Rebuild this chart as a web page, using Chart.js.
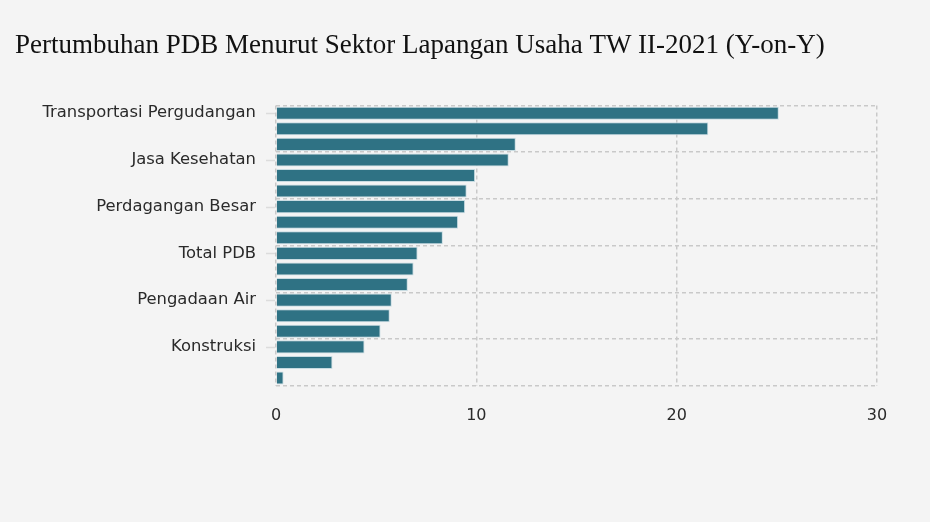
<!DOCTYPE html>
<html>
<head>
<meta charset="utf-8">
<script src="https://cdn.jsdelivr.net/npm/chart.js@4/dist/chart.umd.min.js"></script>
<style>
  html, body { margin: 0; padding: 0; background: #f4f4f4; }
  #wrap { position: relative; width: 930px; height: 522px; }
</style>
</head>
<body>
<div id="wrap"><canvas id="grafikPDB"></canvas></div>
<script>
// sektor lapangan usaha, urut dari pertumbuhan tertinggi
const sektor = [
  'Transportasi Pergudangan', 'Akomodasi Makan Minum', 'Jasa Lainnya',
  'Jasa Kesehatan', 'Jasa Perusahaan', 'Administrasi Pemerintahan',
  'Perdagangan Besar', 'Pengadaan Listrik', 'Jasa Keuangan',
  'Total PDB', 'Informasi Komunikasi', 'Industri Pengolahan',
  'Pengadaan Air', 'Jasa Pendidikan', 'Pertambangan',
  'Konstruksi', 'Real Estate', 'Pertanian'
]
// pertumbuhan y-on-y (%)
const pertumbuhan = [25.10, 21.58, 11.97, 11.62, 9.94, 9.52, 9.44, 9.09, 8.33,
                     7.07, 6.87, 6.58, 5.78, 5.68, 5.22, 4.42, 2.82, 0.38]
const tickX = [0, 10, 20, 30]
const judul = 'Pertumbuhan PDB Menurut Sektor Lapangan Usaha TW II-2021 (Y-on-Y)'

const GRID = '#c9c9c9'
const FONT = 'Verdana, "DejaVu Sans", sans-serif'

// garis tick pendek di sebelah label sumbu Y
const tickKiri = {
  id: 'tickKiri',
  afterDraw(chart) {
    const y = chart.scales.y
    const ctx = chart.ctx
    ctx.save()
    ctx.strokeStyle = '#dcdcdc'
    ctx.lineWidth = 1.5
    for (let i = 0; i < sektor.length; i += 3) {
      const py = Math.round(y.getPixelForTick(i)) + 0.5
      ctx.beginPath()
      ctx.moveTo(chart.chartArea.left - 10, py)
      ctx.lineTo(chart.chartArea.left - 1, py)
      ctx.stroke()
    }
    ctx.restore()
  }
}

const ctx = document.getElementById('grafikPDB').getContext('2d')
new Chart(ctx, {
  type: 'bar',
  data: {
    labels: sektor,
    datasets: [{
      label: 'Pertumbuhan (%)',
      data: pertumbuhan,
      backgroundColor: '#2f7284',
      borderColor: '#c8dce2',
      borderWidth: 1,
      barPercentage: 0.84,
      categoryPercentage: 1
    }]
  },
  options: {
    indexAxis: 'y',
    responsive: true,
    maintainAspectRatio: false,
    animation: false,
    layout: { padding: { left: 15, right: 53, top: 0, bottom: 77 } },
    plugins: {
      legend: { display: false },
      tooltip: { enabled: false },
      title: {
        display: true,
        text: judul,
        align: 'start',
        color: '#111',
        font: { family: '"Liberation Serif", "Times New Roman", serif', size: 27, weight: 'normal' },
        padding: { top: 30, bottom: 43 }
      }
    },
    scales: {
      x: {
        min: 0,
        max: 30,
        afterBuildTicks: s => { s.ticks = tickX.map(v => ({ value: v })) },
        border: { display: false, dash: [4, 3] },
        grid: { color: GRID, lineWidth: 1.5, drawTicks: false },
        ticks: {
          padding: 20,
          color: '#2a2a2a',
          font: { family: FONT, size: 16 }
        }
      },
      y: {
        afterFit: s => { s.width = 261 },
        border: { display: false, dash: [4, 3] },
        grid: {
          offset: true,
          drawTicks: false,
          lineWidth: 1.5,
          color: c => (c.index === undefined || c.index % 3 === 0) ? GRID : 'rgba(0,0,0,0)'
        },
        ticks: {
          autoSkip: false,
          padding: 20,
          color: '#2a2a2a',
          font: { family: FONT, size: 16.4 },
          callback: function(v, i) { return i % 3 === 0 ? this.getLabelForValue(v) : '' }
        }
      }
    }
  },
  plugins: [tickKiri]
})
</script>
</body>
</html>
